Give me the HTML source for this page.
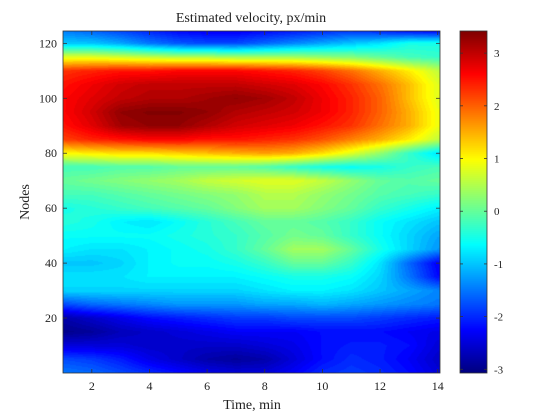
<!DOCTYPE html>
<html><head><meta charset="utf-8">
<style>
body{margin:0;background:#fff;width:560px;height:420px;overflow:hidden;font-family:"Liberation Serif",serif;}
#wrap{position:relative;width:560px;height:420px;}
canvas{position:absolute;}
svg{position:absolute;left:0;top:0;}
text{font-family:"Liberation Serif",serif;fill:#222;}
</style></head>
<body>
<div id="wrap">
<canvas id="hm" width="377" height="342" style="left:63px;top:31px"></canvas>
<canvas id="cb" width="27" height="342" style="left:460px;top:31px"></canvas>
<svg id="ov" width="560" height="420"></svg>
</div>
<script>
const times=[1,2,3,4,5,6,7,8,9,10,11,12,13,14];
const nodes=[0,5,10,15,20,25,30,35,40,45,50,55,60,65,70,75,80,85,90,95,100,105,110,115,120,125];
const velocity=[
[-1.5,-1.6,-1.8,-2,-2.2,-2.4,-2.5,-2.5,-2.3,-2,-1.9,-2,-2.2,-2.5],
[-1.8,-1.9,-2.1,-2.4,-2.6,-2.8,-2.9,-2.8,-2.5,-2.2,-2,-2.1,-2.3,-2.6],
[-2.5,-2.5,-2.5,-2.6,-2.6,-2.6,-2.6,-2.5,-2.4,-2.2,-2.1,-2.1,-2.2,-2.5],
[-3,-2.9,-2.7,-2.6,-2.5,-2.4,-2.3,-2.3,-2.3,-2.2,-2.2,-2.2,-2.3,-2.4],
[-2.8,-2.6,-2.4,-2.2,-2.1,-2,-1.9,-1.9,-1.8,-1.8,-1.8,-1.9,-2,-2.1],
[-1.8,-1.6,-1.5,-1.4,-1.3,-1.3,-1.3,-1.2,-1.2,-1.1,-1.2,-1.3,-1.4,-1.5],
[-0.9,-0.9,-0.9,-0.9,-0.9,-0.9,-0.9,-0.8,-0.7,-0.7,-0.8,-1,-1.2,-1.4],
[-0.8,-0.8,-0.8,-0.7,-0.7,-0.7,-0.7,-0.6,-0.5,-0.5,-0.6,-0.9,-1.5,-2.2],
[-1,-1,-0.9,-0.7,-0.6,-0.6,-0.5,-0.3,0,0,-0.3,-0.8,-1.6,-2.3],
[-0.7,-0.8,-0.8,-0.7,-0.6,-0.5,-0.3,0,0.4,0.4,0,-0.5,-0.9,-1.3],
[-0.6,-0.6,-0.6,-0.6,-0.5,-0.4,-0.3,-0.1,0.1,0,-0.3,-0.6,-0.9,-1.2],
[-0.4,-0.5,-0.7,-0.8,-0.6,-0.4,-0.2,0,0,-0.1,-0.3,-0.6,-0.8,-1],
[-0.5,-0.4,-0.3,-0.2,-0.1,0,0.2,0.4,0.4,0.2,0,-0.3,-0.5,-0.7],
[-0.2,-0.2,-0.1,0,0.1,0.2,0.3,0.5,0.5,0.3,0.1,-0.1,-0.2,-0.3],
[0,0.1,0.2,0.3,0.4,0.6,0.7,0.8,0.8,0.6,0.3,0,-0.1,0],
[-0.2,-0.2,-0.1,-0.1,0,0,0,-0.1,-0.3,-0.5,-0.6,-0.5,-0.3,-0.2],
[1.0,1.1,1.2,1.2,1.3,1.4,1.5,1.6,1.5,1.2,0.8,0.3,-0.3,-0.8],
[2.2,2.4,2.5,2.6,2.6,2.5,2.5,2.4,2.3,2.1,1.8,1.5,1.1,0.6],
[2.5,2.8,3.2,3.3,3.3,3.1,2.9,2.8,2.7,2.5,2.3,1.9,1.5,0.9],
[2.6,2.9,3.3,3.4,3.4,3.3,3.1,3.0,2.9,2.7,2.4,2.0,1.5,0.9],
[2.6,2.8,3.0,3.1,3.1,3.2,3.3,3.2,3.0,2.7,2.4,2.0,1.4,0.8],
[2.5,2.7,2.9,3.0,3.0,3.0,3.0,2.9,2.8,2.6,2.3,1.9,1.4,0.8],
[2.3,2.4,2.5,2.5,2.6,2.6,2.6,2.5,2.4,2.2,1.9,1.5,1.1,0.6],
[0.8,0.8,0.7,0.6,0.5,0.5,0.4,0.4,0.4,0.3,0.2,0,-0.2,-0.3],
[-1,-1,-1.2,-1.5,-1.7,-1.8,-1.8,-1.6,-1.4,-1.2,-1,-0.8,-0.5,-0.5],
[-1.5,-1.7,-1.9,-2.1,-2.3,-2.4,-2.4,-2.3,-2.2,-2.1,-2,-2.2,-2.4,-2.5]];
const xTicks=[2,4,6,8,10,12,14];
const yTicks=[20,40,60,80,100,120];
const cTicks=[-3,-2,-1,0,1,2,3];
const xMin=1,xMax=14.08,yMin=0,yMax=124.5,cMin=-3.07,cMax=3.42;
const PL=63,PT=31,PW=377,PH=342,CL=460,CW=27;
const xs=v=>PL+(v-xMin)/(xMax-xMin)*PW;
const ys=v=>PT+PH-(v-yMin)/(yMax-yMin)*PH;
const cs=v=>PT+PH-(v-cMin)/(cMax-cMin)*PH;
function jet(v){
  let t=(v-cMin)/(cMax-cMin);t=Math.max(0,Math.min(1,t));
  const f=x=>Math.max(0,Math.min(1,x));
  const r=f(Math.min(4*t-1.5,-4*t+4.5)),g=f(Math.min(4*t-0.5,-4*t+3.5)),b=f(Math.min(4*t+0.5,-4*t+2.5));
  return [r*255,g*255,b*255];
}
function idx(arr,v){let i=0;while(i<arr.length-2&&v>arr[i+1])i++;let f=(v-arr[i])/(arr[i+1]-arr[i]);return [i,Math.max(0,Math.min(1,f))];}
function sample(t,n){
  const [i,fx]=idx(times,t),[j,fy]=idx(nodes,n);
  const a=velocity[j][i],b=velocity[j][i+1],c=velocity[j+1][i],d=velocity[j+1][i+1];
  return (a*(1-fx)+b*fx)*(1-fy)+(c*(1-fx)+d*fx)*fy;
}
const hm=document.getElementById('hm').getContext('2d');
const img=hm.createImageData(PW,PH);
for(let py=0;py<PH;py++){
  const n=yMax-(py+0.5)/PH*(yMax-yMin);
  for(let px=0;px<PW;px++){
    const t=xMin+(px+0.5)/PW*(xMax-xMin);
    const v=Math.round(sample(t,n)*12)/12;
    const c=jet(v),k=(py*PW+px)*4;
    img.data[k]=c[0];img.data[k+1]=c[1];img.data[k+2]=c[2];img.data[k+3]=255;
  }
}
hm.putImageData(img,0,0);
const cb=document.getElementById('cb').getContext('2d');
for(let py=0;py<PH;py++){const v=cMax-(py+0.5)/PH*(cMax-cMin);const c=jet(v);cb.fillStyle=`rgb(${c[0]|0},${c[1]|0},${c[2]|0})`;cb.fillRect(0,py,CW,1);}
const svg=document.getElementById('ov'),NS='http://www.w3.org/2000/svg';
function mk(tag,at,txt){const e=document.createElementNS(NS,tag);for(const k in at)e.setAttribute(k,at[k]);if(txt!==undefined)e.textContent=txt;svg.appendChild(e);return e;}
let e;
e=mk('rect',{x:PL,y:PT,width:PW,height:PH,fill:'none',stroke:'#333','stroke-width':0.8});


e=mk('rect',{x:CL,y:PT,width:CW,height:PH,fill:'none',stroke:'#333','stroke-width':0.8});


xTicks.forEach(v=>{const x=xs(v);
 mk('line',{x1:x,x2:x,y1:PT+PH,y2:PT+PH-4,stroke:'#333','stroke-width':0.8});
 mk('line',{x1:x,x2:x,y1:PT,y2:PT+4,stroke:'#333','stroke-width':0.8});
 e=mk('text',{x:x,y:390,'font-size':12,'text-anchor':'middle'},v);
 
 
});
yTicks.forEach(v=>{const y=ys(v);
 mk('line',{x1:PL,x2:PL+4,y1:y,y2:y,stroke:'#333','stroke-width':0.8});
 mk('line',{x1:PL+PW,x2:PL+PW-4,y1:y,y2:y,stroke:'#333','stroke-width':0.8});
 e=mk('text',{x:57,y:y+4,'font-size':12,'text-anchor':'end'},v);
 
 
});
cTicks.forEach(v=>{const y=cs(v);
 mk('line',{x1:CL,x2:CL+3,y1:y,y2:y,stroke:'#333','stroke-width':0.8});
 mk('line',{x1:CL+CW,x2:CL+CW-3,y1:y,y2:y,stroke:'#333','stroke-width':0.8});
 e=mk('text',{x:494,y:y+4,'font-size':11},v);
 
 
});
e=mk('text',{x:251,y:22,'font-size':14,'text-anchor':'middle'},'Estimated velocity, px/min');


e=mk('text',{x:252,y:409,'font-size':14,'text-anchor':'middle'},'Time, min');


e=mk('text',{x:0,y:0,'font-size':14,'text-anchor':'middle',transform:'translate(29,202) rotate(-90)'},'Nodes');


</script>
</body></html>
